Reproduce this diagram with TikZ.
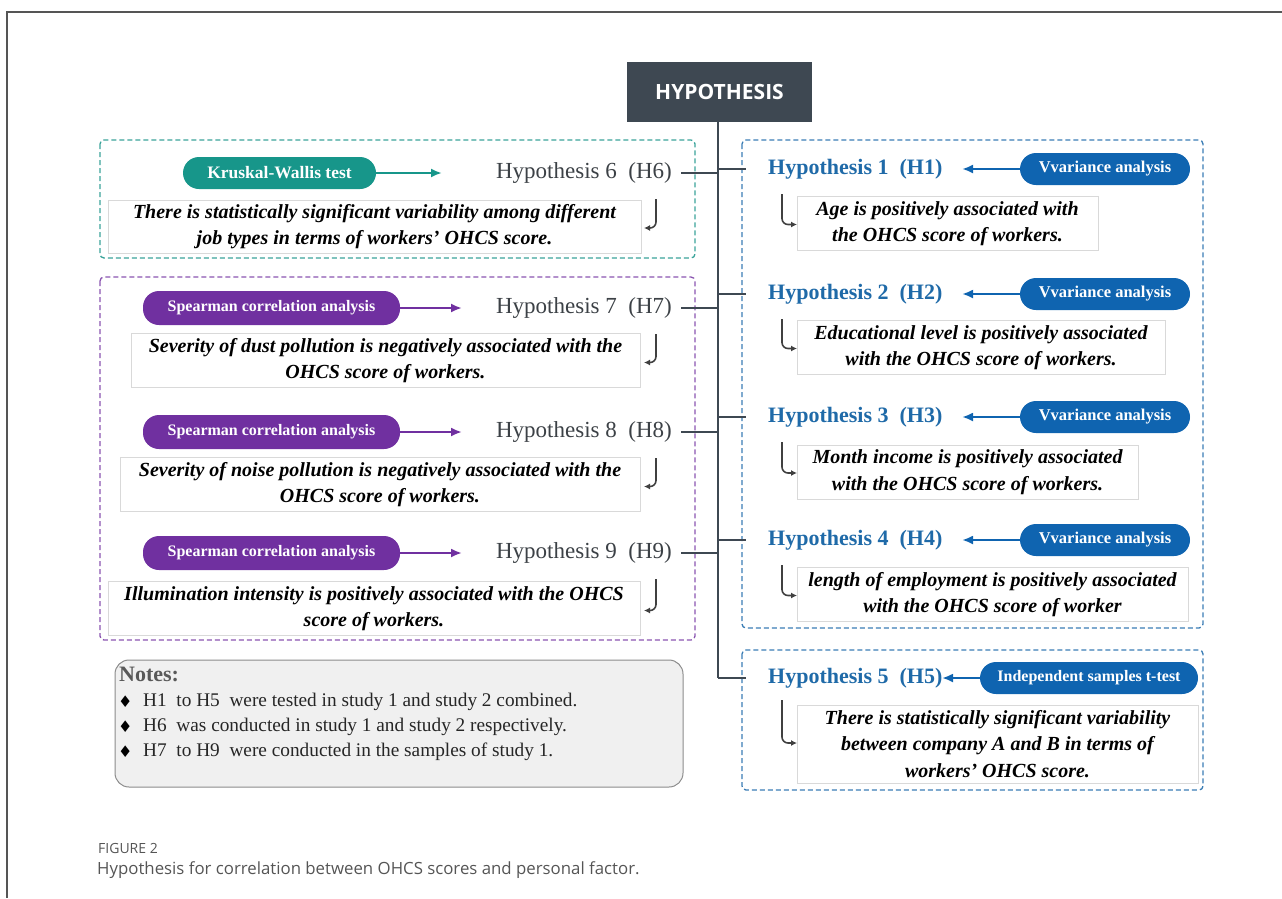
\documentclass[tikz,border=0pt]{standalone}
\usepackage{fontspec}
\setmainfont{Liberation Serif}
\newfontfamily\capfont{Open Sans}
\newfontfamily\symfont{DejaVu Sans}
\usetikzlibrary{arrows.meta}
\definecolor{slate}{HTML}{3E4852}
\definecolor{tealc}{HTML}{17968A}
\definecolor{purp}{HTML}{7030A0}
\definecolor{blu}{HTML}{0F64B0}
\definecolor{hblue}{HTML}{1F6AA8}
\definecolor{hgray}{HTML}{3C4146}
\definecolor{tealdash}{HTML}{3AA39A}
\definecolor{purpdash}{HTML}{8A55B0}
\definecolor{bludash}{HTML}{3A7DB5}
\definecolor{capgray}{HTML}{555555}
\tikzset{
  pill/.style={rounded corners=16pt, text=white, font=\fontsize{16.5}{18}\selectfont\bfseries, inner sep=0pt},
  pillT/.style={pill, fill=tealc},
  pillP/.style={pill, fill=purp},
  pillB/.style={pill, fill=blu},
  stmt/.style={draw=black!15, fill=white, line width=0.8pt, align=center, inner sep=0pt,
     font=\fontsize{20}{26.5}\selectfont\bfseries\itshape},
  hL/.style={text=hgray, font=\fontsize{23}{26}\selectfont, inner sep=0pt},
  hR/.style={text=hblue, font=\fontsize{22}{26}\selectfont\bfseries, inner sep=0pt},
  dbox/.style={line width=1.3pt, dash pattern=on 5pt off 3pt, rounded corners=4pt},
  arr/.style={line width=2.4pt, -{Latex[length=11pt,width=9pt]}},
  arrT/.style={arr, tealc},
  arrP/.style={arr, purp},
  arrB/.style={arr, blu},
  trunk/.style={slate, line width=2.6pt},
  branch/.style={slate, line width=1.6pt},
  hookline/.style={black!75, line width=1.6pt, rounded corners=6pt, -{Latex[length=6pt,width=6pt]}},
}
\begin{document}
\begin{tikzpicture}[x=1pt,y=-1pt]
\useasboundingbox (0,0) rectangle (1282,898);
% frame
\draw[capgray, line width=1.3pt] (1282,12) -- (7,12) -- (7,898);
% header
\node[fill=slate, minimum width=185, minimum height=60, inner sep=0pt, text=white,
  font=\capfont\fontsize{21}{24}\selectfont\bfseries] (top) at (719.5,92) {HYPOTHESIS};
\coordinate (tend) at (718,678);
\draw[trunk] (top.south -| tend) -- (tend);
% dashed groups
\draw[dbox, tealdash] (100,140) rectangle (695,258);
\draw[dbox, purpdash] (100,277) rectangle (695,640);
\draw[dbox, bludash] (742,140) rectangle (1203,628);
\draw[dbox, bludash] (742,650) rectangle (1203,790);
% ---------- left side ----------
\node[pillT, minimum width=193, minimum height=32, font=\fontsize{17.5}{19}\selectfont\bfseries] (p6) at (279.5,173) {Kruskal-Wallis test};
\node[hL, anchor=east] (h6) at (672,173) {Hypothesis 6~~(H6)};
\coordinate (a6) at (442,173);
\draw[arrT] (p6.east) -- (a6);
\node[stmt, minimum width=533, minimum height=53] (s6) at (374.5,226.5)
  {There is statistically significant variability among different\\job types in terms of workers’ OHCS score.};
\coordinate (b6) at (681,173);
\draw[branch] (b6) -- (b6 -| tend);
\draw[hookline] (656,199) -- (656,228) -- (644,228);

\foreach \n/\y/\sx/\sy/\sw/\txt in {
  7/308/385.5/360.5/509/{Severity of dust pollution is negatively associated with the\\OHCS score of workers.},
  8/432/380/484.5/520/{Severity of noise pollution is negatively associated with the\\OHCS score of workers.},
  9/553/374/608.5/532/{Illumination intensity is positively associated with the OHCS\\score of workers.}}{
  \node[pillP, minimum width=257, minimum height=34, font=\fontsize{16}{18}\selectfont\bfseries] (p\n) at (271.5,\y) {Spearman correlation analysis};
  \node[hL, anchor=east] (h\n) at (672,\y) {Hypothesis \n~~(H\n)};
  \coordinate (a\n) at (462,\y);
  \draw[arrP] (p\n.east) -- (a\n);
  \node[stmt, minimum width=\sw, minimum height=54] (s\n) at (\sx,\sy) {\txt};
  \coordinate (b\n) at (681,\y);
  \draw[branch] (b\n) -- (b\n -| tend);
  \draw[hookline] (656,\y+26) -- (656,\sy+2) -- (644,\sy+2);
}
% ---------- right side ----------
\foreach \n/\y/\sx/\sy/\sw/\txt in {
  1/169/947.5/223.5/301/{Age is positively associated with\\the OHCS score of workers.},
  2/294/981/347.5/368/{Educational level is positively associated\\with the OHCS score of workers.},
  3/417/967.5/472/341/{Month income is positively associated\\with the OHCS score of workers.},
  4/540/992.5/594.5/391/{length of employment is positively associated\\with the OHCS score of worker}}{
  \node[pillB, minimum width=170, minimum height=32] (p\n) at (1105,\y) {Vvariance analysis};
  \node[hR, anchor=west] (h\n) at (768,\y) {Hypothesis \n~~(H\n)};
  \coordinate (a\n) at (962,\y);
  \draw[arrB] (p\n.west) -- (a\n);
  \node[stmt, minimum width=\sw, minimum height=54] (s\n) at (\sx,\sy) {\txt};
  \coordinate (b\n) at (746,\y);
  \draw[branch] (b\n -| tend) -- (b\n);
  \draw[hookline] (782,\y+25) -- (782,\sy+1) -- (797,\sy+1);
}
% H5
\node[pillB, minimum width=218, minimum height=32, font=\fontsize{16}{18}\selectfont\bfseries] (p5) at (1089,678) {Independent samples t-test};
\node[hR, anchor=west] (h5) at (768,678) {Hypothesis 5~~(H5)};
\coordinate (a5) at (942,678);
\draw[arrB] (p5.west) -- (a5);
\node[stmt, minimum width=401, minimum height=78] (s5) at (997.5,744)
  {There is statistically significant variability\\between company A and B in terms of\\workers’ OHCS score.};
\coordinate (b5) at (746,678);
\draw[branch] (tend) -- (b5);
\draw[hookline] (782,700) -- (782,743) -- (797,743);
% notes
\node[draw=black!45, fill=black!6, line width=1pt, rounded corners=14pt,
  minimum width=568, minimum height=127, inner sep=0pt] (notes) at (399,723.5) {};
\node[anchor=west, text=black!65, font=\fontsize{22}{24}\selectfont\bfseries, inner sep=0pt] (nt) at (119,674) {Notes:};
\foreach \yy/\t in {702/{H1~ to H5~ were tested in study 1 and study 2 combined.},
                    727/{H6~ was conducted in study 1 and study 2 respectively.},
                    752/{H7~ to H9~ were conducted in the samples of study 1.}}{
  \node[anchor=west, inner sep=0pt, font=\symfont\fontsize{16}{18}\selectfont] at (118,\yy) {♦};
  \node[anchor=west, inner sep=0pt, text=black!85, font=\fontsize{19.3}{22}\selectfont] at (143,\yy) {\t};
}
% caption
\node[anchor=west, inner sep=0pt, text=capgray, font=\capfont\fontsize{14}{16}\selectfont] (fig) at (98,848) {FIGURE 2};
\node[anchor=west, inner sep=0pt, text=capgray, font=\capfont\fontsize{16.8}{20}\selectfont] (cap) at (97,870) {Hypothesis for correlation between OHCS scores and personal factor.};
\end{tikzpicture}
\end{document}
